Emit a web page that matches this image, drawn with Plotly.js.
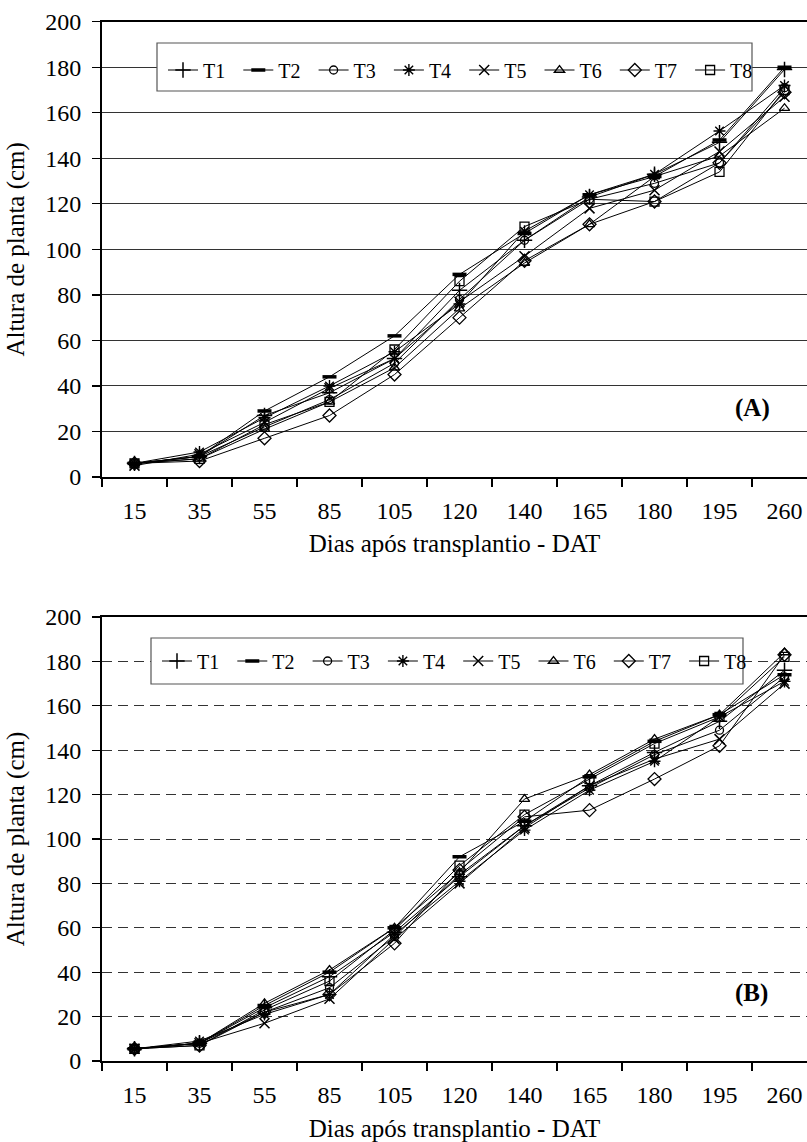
<!DOCTYPE html>
<html>
<head>
<meta charset="utf-8">
<script src="https://cdn.plot.ly/plotly-3.0.1.min.js"></script>
<style>
  html, body { margin: 0; padding: 0; background: #ffffff; overflow: hidden; }
  #chart { width: 807px; height: 1142px; }
</style>
</head>
<body>
<div id="chart"></div>
<script>
// Dias após transplantio (categorias do eixo x)
const dias = ['15', '35', '55', '85', '105', '120', '140', '165', '180', '195', '260'];
const tratamentos = ['T1', 'T2', 'T3', 'T4', 'T5', 'T6', 'T7', 'T8'];

// Altura de planta (cm) - gráfico (A)
const alturaA_T1 = [6, 9, 27, 37, 52, 82, 104, 123, 133, 147, 179];
const alturaA_T2 = [6, 9, 29, 44, 62, 89, 107, 124, 132, 148, 180];
const alturaA_T3 = [6, 9, 22, 34, 50, 78, 104, 122, 129, 138, 171];
const alturaA_T4 = [6, 11, 26, 40, 55, 76, 108, 124, 133, 152, 172];
const alturaA_T5 = [5, 10, 24, 39, 52, 77, 97, 118, 126, 143, 167];
const alturaA_T6 = [6, 8, 21, 33, 48, 74, 94, 111, 132, 141, 162];
const alturaA_T7 = [6, 7, 17, 27, 45, 70, 95, 111, 121, 138, 169];
const alturaA_T8 = [6, 8, 23, 33, 56, 86, 110, 122, 121, 134, 170];

// Altura de planta (cm) - gráfico (B)
const alturaB_T1 = [5.5, 8, 24, 38, 58, 83, 106, 124, 139, 153, 176];
const alturaB_T2 = [5.5, 8, 25, 40, 60, 92, 108, 128, 144, 156, 174];
const alturaB_T3 = [5.5, 8, 22, 33, 56, 84, 106, 123, 138, 149, 173];
const alturaB_T4 = [5.5, 9, 21, 30, 57, 81, 104, 122, 135, 155, 171];
const alturaB_T5 = [5.5, 8, 17, 28, 55, 80, 105, 124, 136, 145, 170];
const alturaB_T6 = [5.5, 8, 26, 41, 60, 85, 118, 129, 145, 156, 184];
const alturaB_T7 = [5.5, 7, 22, 30, 53, 86, 110, 113, 127, 142, 183];
const alturaB_T8 = [5.5, 7, 23, 36, 59, 88, 111, 127, 143, 155, 182];

const valoresA = [alturaA_T1, alturaA_T2, alturaA_T3, alturaA_T4, alturaA_T5, alturaA_T6, alturaA_T7, alturaA_T8];
const valoresB = [alturaB_T1, alturaB_T2, alturaB_T3, alturaB_T4, alturaB_T5, alturaB_T6, alturaB_T7, alturaB_T8];

// Marcadores de cada tratamento
const simbolos = [
  { symbol: 'cross-thin', size: 11, lw: 1.5 },
  { symbol: 'line-ew', size: 10, lw: 3.5 },
  { symbol: 'circle-open', size: 8, lw: 1.3 },
  { symbol: 'asterisk', size: 10, lw: 1.4 },
  { symbol: 'x-thin', size: 10, lw: 1.5 },
  { symbol: 'triangle-up-open', size: 9, lw: 1.3 },
  { symbol: 'diamond-open', size: 10, lw: 1.3 },
  { symbol: 'square-open', size: 9, lw: 1.3 }
];

const W = 807, H = 1142;
const serif = '"Liberation Serif", "Times New Roman", serif';
const px = x => x / W;
const py = y => 1 - y / H;

function series(valores, xa, ya, legendId) {
  return valores.map((v, i) => ({
    type: 'scatter',
    mode: 'lines+markers',
    name: tratamentos[i],
    x: dias,
    y: v,
    xaxis: xa,
    yaxis: ya,
    legend: legendId,
    line: { color: '#000000', width: 1 },
    marker: {
      symbol: simbolos[i].symbol,
      size: simbolos[i].size,
      color: '#000000',
      line: { color: '#000000', width: simbolos[i].lw }
    }
  }));
}

const traces = series(valoresA, 'x', 'y', 'legend').concat(series(valoresB, 'x2', 'y2', 'legend2'));

function xAxis(anchor, standoff) {
  return {
    type: 'category',
    anchor: anchor,
    domain: [px(102), 1],
    range: [-0.5, 10.346],
    showgrid: false,
    zeroline: false,
    showline: true,
    linecolor: '#000000',
    linewidth: 2,
    mirror: true,
    ticks: 'outside',
    tickson: 'boundaries',
    ticklen: 8,
    tickwidth: 1.3,
    tickcolor: '#000000',
    ticklabelstandoff: 11,
    tickfont: { family: serif, size: 24, color: '#000000' },
    title: {
      text: 'Dias após transplantio - DAT',
      font: { family: serif, size: 25, color: '#000000' },
      standoff: standoff
    },
    automargin: false,
    fixedrange: true
  };
}

function yAxis(domain, anchor, dashed) {
  return {
    anchor: anchor,
    domain: domain,
    range: [0, 200],
    dtick: 20,
    tick0: 0,
    showgrid: true,
    gridcolor: '#333333',
    gridwidth: 1,
    griddash: dashed ? '10px,6px' : 'solid',
    zeroline: false,
    showline: true,
    linecolor: '#000000',
    linewidth: 2,
    ticks: 'outside',
    ticklen: 8,
    tickwidth: 1.3,
    tickcolor: '#000000',
    ticklabelstandoff: 6,
    tickfont: { family: serif, size: 24, color: '#000000' },
    title: {
      text: 'Altura de planta (cm)',
      font: { family: serif, size: 25, color: '#000000' },
      standoff: 13
    },
    automargin: false,
    fixedrange: true
  };
}

function legenda(yCentro, xEsq) {
  return {
    orientation: 'h',
    x: px(xEsq),
    xanchor: 'left',
    y: py(yCentro),
    yanchor: 'middle',
    bgcolor: 'rgba(0,0,0,0)',
    borderwidth: 0,
    itemwidth: 30,
    entrywidth: 30.3,
    entrywidthmode: 'pixels',
    font: { family: serif, size: 20, color: '#000000' },
    itemclick: false,
    itemdoubleclick: false
  };
}

function caixa(x0, x1, y0, y1) {
  return {
    type: 'rect', xref: 'paper', yref: 'paper', layer: 'above',
    x0: px(x0), x1: px(x1), y0: py(y1), y1: py(y0),
    line: { color: '#555555', width: 1.2 },
    fillcolor: '#ffffff'
  };
}

const layout = {
  width: W,
  height: H,
  margin: { l: 0, r: 0, t: 0, b: 0 },
  paper_bgcolor: '#ffffff',
  plot_bgcolor: '#ffffff',
  font: { family: serif, color: '#000000' },
  showlegend: true,
  xaxis: xAxis('y', 12),
  yaxis: yAxis([py(477), py(21.7)], 'x', false),
  xaxis2: xAxis('y2', 16),
  yaxis2: yAxis([py(1061), py(617)], 'x2', true),
  legend: legenda(70, 163),
  legend2: legenda(661, 157),
  shapes: [caixa(157, 752, 43, 91), caixa(151, 743, 638, 684)],
  annotations: [
    { text: '<b>(A)</b>', xref: 'paper', yref: 'paper', x: px(752), y: py(408),
      xanchor: 'center', yanchor: 'middle', showarrow: false,
      font: { family: serif, size: 25, color: '#000000' } },
    { text: '<b>(B)</b>', xref: 'paper', yref: 'paper', x: px(751), y: py(993),
      xanchor: 'center', yanchor: 'middle', showarrow: false,
      font: { family: serif, size: 25, color: '#000000' } }
  ]
};

Plotly.newPlot('chart', traces, layout, { displayModeBar: false, staticPlot: true });
</script>
</body>
</html>
